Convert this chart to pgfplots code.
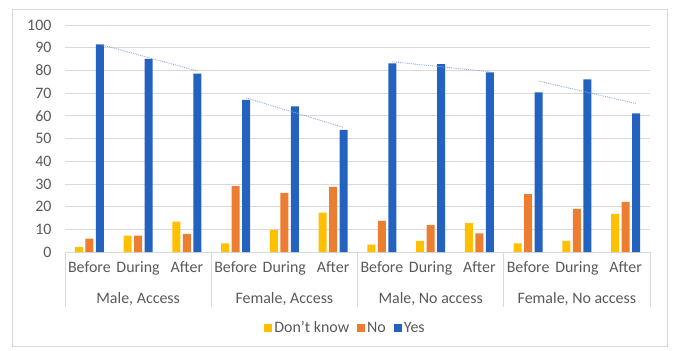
\documentclass[border=0pt]{standalone}
\usepackage{pgfplots}
\pgfplotsset{compat=1.18}
\usepackage{fontspec}
\setmainfont{Carlito}
\definecolor{cDK}{HTML}{FFC000}
\definecolor{cNo}{HTML}{ED7D31}
\definecolor{cYes}{HTML}{2462BF}
\definecolor{txt}{HTML}{595959}
\definecolor{grd}{HTML}{D9D9D9}
\definecolor{trend}{HTML}{8FAADC}
\begin{document}
\begin{tikzpicture}
\begin{axis}[
  scale only axis, width=585bp, height=227bp,
  xmin=-0.5, xmax=11.5, ymin=0, ymax=100,
  ytick={0,10,...,100}, xtick={0,...,11},
  xticklabels={Before,During,After,Before,During,After,Before,During,After,Before,During,After},
  ymajorgrids, grid style={grd, line width=0.8bp},
  axis line style={draw=none}, major tick length=0pt,
  tick label style={font=\fontsize{16}{19}\selectfont, text=txt},
  /pgf/number format/assume math mode=true,
  yticklabel style={xshift=-10bp},
  xticklabel style={yshift=-6bp},
  clip=false,
  legend style={at={(axis description cs:0.5,0)}, anchor=center, yshift=-76bp, xshift=-12bp,
    draw=none, fill=none, legend columns=3, font=\fontsize{16}{19}\selectfont, text=txt,
    /tikz/every even column/.append style={column sep=6bp}},
  legend cell align=left,
]
\addplot[ybar, bar width=8bp, bar shift=-10.5bp, fill=cDK, draw=none,
  legend image code/.code={\fill[cDK] (0bp,-4bp) rectangle (8bp,4bp);}]
  coordinates {(0,2.2) (1,7.2) (2,13.4) (3,3.8) (4,9.7) (5,17.4) (6,3.2) (7,4.9) (8,12.7) (9,3.8) (10,4.9) (11,16.8)};
\addlegendentry{Don’t know}
\addplot[ybar, bar width=8bp, bar shift=0bp, fill=cNo, draw=none,
  legend image code/.code={\fill[cNo] (0bp,-4bp) rectangle (8bp,4bp);}]
  coordinates {(0,5.9) (1,7.2) (2,8.0) (3,29.0) (4,26.1) (5,28.7) (6,13.7) (7,11.8) (8,8.2) (9,25.5) (10,19.0) (11,22.1)};
\addlegendentry{No}
\addplot[ybar, bar width=8bp, bar shift=10.5bp, fill=cYes, draw=none,
  legend image code/.code={\fill[cYes] (0bp,-4bp) rectangle (8bp,4bp);}]
  coordinates {(0,91.5) (1,85.1) (2,78.6) (3,67.0) (4,64.2) (5,53.8) (6,83.1) (7,82.8) (8,79.1) (9,70.3) (10,76.0) (11,61.1)};
\addlegendentry{Yes}
% linear trendlines of Yes
\addplot[forget plot, trend, densely dotted, line width=0.9bp] coordinates {(0.215,91.5) (2.215,79.8)};
\addplot[forget plot, trend, densely dotted, line width=0.9bp] coordinates {(3.215,67.9) (5.215,54.9)};
\addplot[forget plot, trend, densely dotted, line width=0.9bp] coordinates {(6.215,83.8) (8.215,79.4)};
\addplot[forget plot, trend, densely dotted, line width=0.9bp] coordinates {(9.215,75.3) (11.215,65.4)};
% category separators
\foreach \xx in {-0.5,2.5,5.5,8.5,11.5} {
  \edef\tmp{\noexpand\draw[grd, line width=0.8bp] (axis cs:\xx,0) -- (axis cs:\xx,-24.2);}
  \tmp
}
\node[font=\fontsize{16}{19}\selectfont, text=txt] at (axis cs:1,-20.7) {Male, Access};
\node[font=\fontsize{16}{19}\selectfont, text=txt] at (axis cs:4,-20.7) {Female, Access};
\node[font=\fontsize{16}{19}\selectfont, text=txt] at (axis cs:7,-20.7) {Male, No access};
\node[font=\fontsize{16}{19}\selectfont, text=txt] at (axis cs:10,-20.7) {Female, No access};
\end{axis}
\begin{scope}[x=1bp, y=1bp]
\draw[grd, line width=0.8bp] (-53,243) rectangle (602,-94);
\path[use as bounding box] (-65,252) rectangle (609,-98);
\end{scope}
\end{tikzpicture}
\end{document}
